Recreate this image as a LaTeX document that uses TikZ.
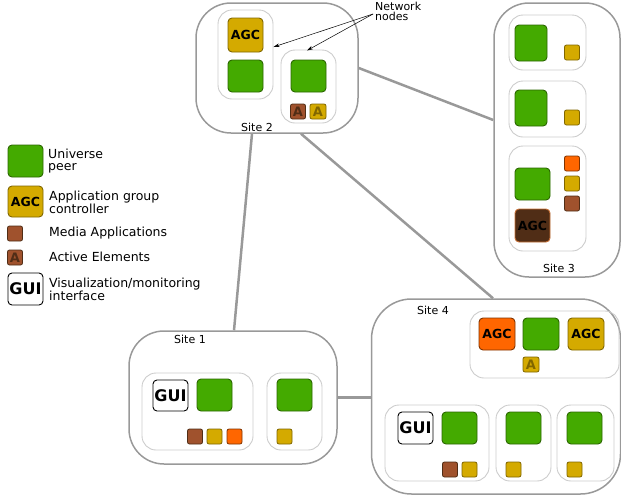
\documentclass[tikz,border=0pt]{standalone}
\usepackage{fontspec}
\usetikzlibrary{arrows.meta}
\setmainfont{DejaVu Sans}
\definecolor{peerfill}{HTML}{44AA00}
\definecolor{peerline}{HTML}{2B6600}
\definecolor{goldfill}{HTML}{D4AA00}
\definecolor{goldline}{HTML}{806600}
\definecolor{mediafill}{HTML}{A0522D}
\definecolor{medialine}{HTML}{502D16}
\definecolor{orangefill}{HTML}{FF6600}
\definecolor{orangeline}{HTML}{803300}
\definecolor{darkfill}{HTML}{502D16}
\definecolor{darkline}{HTML}{C87137}
\definecolor{siteline}{HTML}{999999}
\definecolor{hostline}{HTML}{CCCCCC}
\begin{document}
\begin{tikzpicture}[x=1pt,y=-1pt,
  site/.style={draw=siteline,line width=1.5pt,rounded corners=35pt,inner sep=0pt},
  host/.style={draw=hostline,line width=0.9pt,rounded corners=14pt,inner sep=0pt},
  box/.style={line width=0.9pt,rounded corners=4pt,inner sep=0pt,minimum width=35pt,minimum height=32pt,font=\bfseries\fontsize{12.5}{12.5}\selectfont},
  peer/.style={box,fill=peerfill,draw=peerline},
  agc/.style={box,fill=goldfill,draw=goldline},
  gui/.style={box,fill=white,draw=black,font=\bfseries\fontsize{16}{16}\selectfont},
  app/.style={line width=0.8pt,rounded corners=2pt,inner sep=0pt,minimum width=15pt,minimum height=15pt,font=\bfseries\fontsize{13}{13}\selectfont},
  media/.style={app,fill=mediafill,draw=medialine,text=medialine},
  gold/.style={app,fill=goldfill,draw=goldline,text=goldline},
  orange/.style={app,fill=orangefill,draw=orangeline},
  label/.style={font=\fontsize{11}{10}\selectfont,inner sep=0pt},
  legend/.style={anchor=west,align=left,font=\fontsize{12.5}{11.5}\selectfont,inner sep=0pt},
  link/.style={draw=siteline,line width=2.5pt}]
\useasboundingbox (0,0) rectangle (621,496);

% sites
\node[site,minimum width=162pt,minimum height=130pt] (site2) at (277,68) {};
\node[site,minimum width=126pt,minimum height=274pt] (site3) at (557,140) {};
\node[site,minimum width=208pt,minimum height=133pt] (site1) at (233,397.5) {};
\node[site,minimum width=249pt,minimum height=195pt,rounded corners=40pt] (site4) at (496,396.5) {};
\node[label] (site2label) at (257,127) {Site 2};
\node[label] (site3label) at (559,268) {Site 3};
\node[label] (site1label) at (190,339) {Site 1};
\node[label] (site4label) at (433,310) {Site 4};

% site 2
\node[host,minimum width=55pt,minimum height=89pt] (s2a) at (245.5,54.5) {};
\node[host,minimum width=55pt,minimum height=73pt] (s2b) at (308.5,86.5) {};
\node[agc,minimum height=34pt] (s2agc) at (245.5,35) {AGC};
\node[peer] (s2peera) at (245.5,76) {};
\node[peer] (s2peerb) at (308.5,76) {};
\node[media] (s2ea) at (298,111.5) {A};
\node[gold,minimum width=16pt] (s2eb) at (318,111.5) {A};

% site 3
\node[host,minimum width=77pt,minimum height=55pt] (s3a) at (547.5,42.5) {};
\node[host,minimum width=77pt,minimum height=56pt] (s3b) at (547.5,109) {};
\node[host,minimum width=77pt,minimum height=105pt] (s3c) at (547.5,198.5) {};
\node[peer,minimum width=32pt,minimum height=36pt] (s3peera) at (531,43) {};
\node[gold] (s3appa) at (572,52.5) {};
\node[peer,minimum width=32pt,minimum height=36pt] (s3peerb) at (531,108) {};
\node[gold] (s3appb) at (572,117.5) {};
\node[orange] (s3appc) at (572,163.5) {};
\node[gold] (s3appd) at (572,183.5) {};
\node[media] (s3appe) at (572,203.5) {};
\node[peer] (s3peerc) at (532.5,184) {};
\node[box,fill=darkfill,draw=darkline,minimum height=33pt] (s3agc) at (532.5,225.5) {AGC};

% site 1
\node[host,minimum width=111pt,minimum height=77pt] (s1a) at (197.5,411.5) {};
\node[host,minimum width=55pt,minimum height=77pt] (s1b) at (294.5,411.5) {};
\node[gui,minimum height=31pt] (s1gui) at (170.5,395.5) {GUI};
\node[peer] (s1peera) at (214.5,395) {};
\node[media] (s1appa) at (195,436.5) {};
\node[gold] (s1appb) at (214.5,436.5) {};
\node[orange] (s1appc) at (234.5,436.5) {};
\node[peer] (s1peerb) at (294.5,395) {};
\node[gold] (s1appd) at (284.5,436.5) {};

% site 4
\node[host,minimum width=149pt,minimum height=67pt] (s4top) at (544.5,344.5) {};
\node[host,minimum width=104pt,minimum height=76pt] (s4a) at (437,443) {};
\node[host,minimum width=55pt,minimum height=76pt] (s4b) at (523.5,443) {};
\node[host,minimum width=57pt,minimum height=76pt] (s4c) at (585.5,443) {};
\node[box,fill=orangefill,draw=orangeline,minimum width=36pt] (s4agca) at (497,334) {AGC};
\node[peer,minimum width=36pt] (s4peertop) at (541,334) {};
\node[agc,minimum width=36pt] (s4agcb) at (586,334) {AGC};
\node[gold,minimum width=16pt] (s4elem) at (531,364.5) {A};
\node[gui] (s4gui) at (415.5,428) {GUI};
\node[peer] (s4peera) at (459.5,428) {};
\node[media] (s4appa) at (450,469.5) {};
\node[gold] (s4appb) at (469.5,469.5) {};
\node[peer] (s4peerb) at (523.5,428) {};
\node[gold] (s4appc) at (513.5,469.5) {};
\node[peer] (s4peerc) at (584.5,428) {};
\node[gold] (s4appd) at (574.5,469.5) {};

% links between sites
\draw[link] (site2.east) -- ([yshift=20pt]site3.west);
\draw[link] ([xshift=-25pt]site2.south) -- ([xshift=1pt]site1.north);
\draw[link] ([xshift=24pt]site2.south) -- ([xshift=-3pt]site4.north);
\draw[link] (site1.east) -- (site1.east -| site4.west);

% network nodes
\node[label,anchor=west,align=left] (netnodes) at (375,11) {Network\\nodes};
\coordinate (nettail) at (373,14);
\draw[-{Stealth[length=6pt,width=3.5pt]},line width=0.5pt] (nettail) -- (s2a.east |- 0,47);
\draw[-{Stealth[length=6pt,width=3.5pt]},line width=0.5pt] (nettail) -- (307,50.5);

% legend
\node[peer] (lpeer) at (25.5,161) {};
\node[agc,minimum height=31pt] (lagc) at (25.5,201.5) {AGC};
\node[media] (lmedia) at (15,233.5) {};
\node[media] (lelem) at (15,257.5) {A};
\node[gui] (lgui) at (25.5,289) {GUI};
\node[legend] (lpeertext) at (48,161) {Universe\\peer};
\node[legend] (lagctext) at (49,202) {Application group\\controller};
\node[legend] (lmediatext) at (49,233) {Media Applications};
\node[legend] (lelemtext) at (49,257) {Active Elements};
\node[legend] (lguitext) at (49,289) {Visualization/monitoring\\interface};
\end{tikzpicture}
\end{document}
